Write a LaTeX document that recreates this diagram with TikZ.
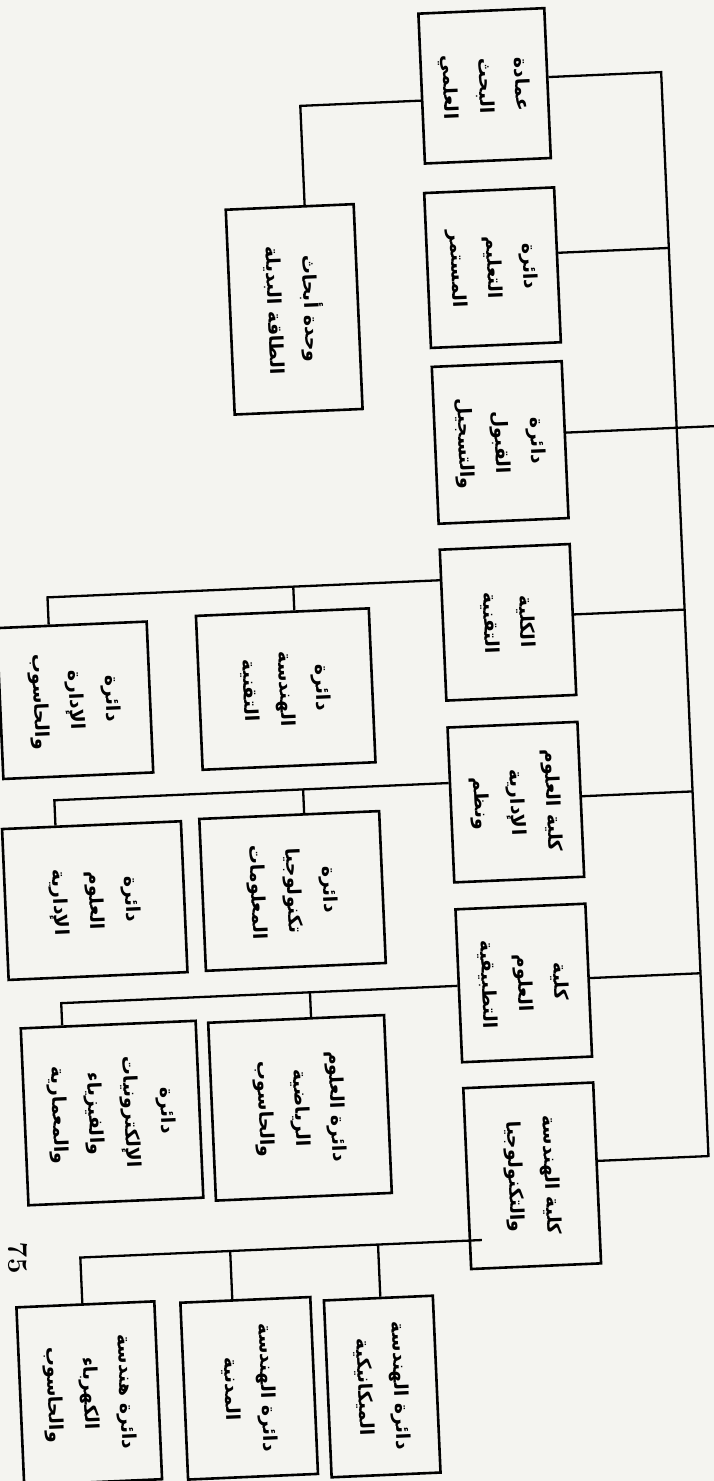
\documentclass[tikz,border=0pt]{standalone}
\usepackage{fontspec}
\usepackage{tikz}
\newfontfamily\arabicfont[Script=Arabic]{DejaVu Sans}
\TeXXeTstate=1
\newcommand{\artxt}[1]{\beginR#1\endR}
\definecolor{paper}{RGB}{244,244,240}

\begin{document}
\begin{tikzpicture}[
        x=1pt, y=-1pt,
        unit/.style={rectangle, draw=black, line width=2.6pt, rotate=-90, align=center, inner sep=3pt, font=\arabicfont\bfseries\fontsize{19}{36}\selectfont},
        dims/.style 2 args={minimum height=#1pt, minimum width=#2pt}, % width, height as seen on the page
        link/.style={draw=black, line width=2.3pt}
    ]
        % Page
        \fill[paper] (0,0) rectangle (714,1481);
        \useasboundingbox (0,0) rectangle (714,1481);

        \begin{scope}[transform canvas={rotate around={2.5:(357,740)}}]
        % Deanship and offices
        \node[unit, dims={126}{150}] (deanship) at (513,92) {\artxt{عمادة}\\\artxt{البحث}\\\artxt{العلمي}};
        \node[unit, dims={128}{205}] (energyUnit) at (313,307) {\artxt{وحدة أبحاث}\\\artxt{الطاقة البديلة}};
        \node[unit, dims={130}{155}] (contEdu) at (513,274) {\artxt{دائرة}\\\artxt{التعليم}\\\artxt{المستمر}};
        \node[unit, dims={130}{157}] (admission) at (513,449) {\artxt{دائرة}\\\artxt{القبول}\\\artxt{والتسجيل}};

        % Colleges
        \node[unit, dims={130}{151}] (techCollege) at (513,629) {\artxt{الكلية}\\\artxt{التقنية}};
        \node[unit, dims={130}{155}] (adminCollege) at (513,809) {\artxt{كلية العلوم}\\\artxt{الإدارية}\\\artxt{ونظم}};
        \node[unit, dims={130}{153}] (appliedCollege) at (513,990) {\artxt{كلية}\\\artxt{العلوم}\\\artxt{التطبيقية}};
        \node[unit, dims={130}{181}] (engCollege) at (513,1183) {\artxt{كلية الهندسة}\\\artxt{والتكنولوجيا}};

        % Departments
        \node[unit, dims={173}{154}] (techEng) at (288,686) {\artxt{دائرة}\\\artxt{الهندسة}\\\artxt{التقنية}};
        \node[unit, dims={150}{151}] (mgmtComp) at (77,688) {\artxt{دائرة}\\\artxt{الإدارة}\\\artxt{والحاسوب}};
        \node[unit, dims={180}{152}] (infoTech) at (286,888) {\artxt{دائرة}\\\artxt{تكنولوجيا}\\\artxt{المعلومات}};
        \node[unit, dims={179}{151}] (mgmtSci) at (88,889) {\artxt{دائرة}\\\artxt{العلوم}\\\artxt{الإدارية}};
        \node[unit, dims={176}{178}] (mathComp) at (284,1105) {\artxt{دائرة العلوم}\\\artxt{الرياضية}\\\artxt{والحاسوب}};
        \node[unit, dims={175}{177}] (elecPhys) at (96,1102) {\artxt{دائرة}\\\artxt{الإلكترونيات}\\\artxt{والفيزياء}\\\artxt{والمعمارية}};
        \node[unit, dims={109}{177}] (mechEng) at (354,1387) {\artxt{دائرة الهندسة}\\\artxt{الميكانيكية}};
        \node[unit, dims={130}{177}] (civilEng) at (221,1383) {\artxt{دائرة الهندسة}\\\artxt{المدنية}};
        \node[unit, dims={138}{178}] (elecEng) at (61,1381) {\artxt{دائرة هندسة}\\\artxt{الكهرباء}\\\artxt{والحاسوب}};

        % Bus (rotated boxes: north = right side, south = left side, west = top)
        \coordinate (busTop) at (690,86);
        \coordinate (busBot) at (690,1171);
        \coordinate (root) at (740,442);
        \coordinate (jContEdu) at (690,262);
        \coordinate (jTech) at (690,624);
        \coordinate (jAdmin) at (690,806);
        \coordinate (jApplied) at (690,988);
        \draw[link] (deanship.north |- busTop) -- (busTop) -- (busBot) -- (engCollege.north |- busBot);
        \draw[link] (contEdu.north |- jContEdu) -- (jContEdu);
        \draw[link] (admission.north |- root) -- (root);
        \draw[link] (techCollege.north |- jTech) -- (jTech);
        \draw[link] (adminCollege.north |- jAdmin) -- (jAdmin);
        \draw[link] (appliedCollege.north |- jApplied) -- (jApplied);

        % Deanship unit
        \coordinate (energyDrop) at (328,104);
        \draw[link] (deanship.south |- energyDrop) -- (energyDrop) -- (energyDrop |- energyUnit.west);

        % Technical college
        \coordinate (techL) at (54,584);
        \coordinate (techM) at (300,584);
        \draw[link] (techCollege.south |- techL) -- (techL) -- (techL |- mgmtComp.west);
        \draw[link] (techM) -- (techM |- techEng.west);

        % Administrative sciences
        \coordinate (adminL) at (52,787);
        \coordinate (adminM) at (301,787);
        \draw[link] (adminCollege.south |- adminL) -- (adminL) -- (adminL |- mgmtSci.west);
        \draw[link] (adminM) -- (adminM |- infoTech.west);

        % Applied sciences
        \coordinate (appL) at (50,990);
        \coordinate (appM) at (299,990);
        \draw[link] (appliedCollege.south |- appL) -- (appL) -- (appL |- elecPhys.west);
        \draw[link] (appM) -- (appM |- mathComp.west);

        % Engineering
        \coordinate (engStart) at (460,1245);
        \coordinate (engL) at (58,1245);
        \coordinate (engM) at (208,1245);
        \coordinate (engR) at (356,1245);
        \draw[link] (engStart) -- (engL) -- (engL |- elecEng.west);
        \draw[link] (engM) -- (engM |- civilEng.west);
        \draw[link] (engR) -- (engR |- mechEng.west);
        \end{scope}

        % Page number
        \node[rotate=-88, inner sep=1pt, font=\bfseries\fontsize{28}{28}\selectfont] (pageNo) at (18,1258) {75};
    \end{tikzpicture}
\end{document}
